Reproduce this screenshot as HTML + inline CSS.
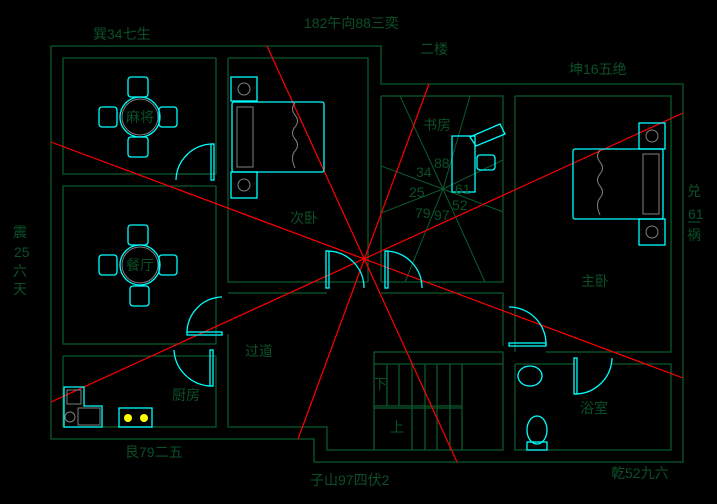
<!DOCTYPE html>
<html><head><meta charset="utf-8"><style>
html,body{margin:0;padding:0;background:#000;}
svg{display:block}
text{font-family:"Liberation Sans","Noto Sans CJK SC",sans-serif;fill:#0b5027;font-size:14px;}
</style></head><body>
<svg width="717" height="504" viewBox="0 0 717 504" xmlns="http://www.w3.org/2000/svg">
<rect width="717" height="504" fill="#000"/>
<g fill="none" stroke="#0b5a2c" stroke-width="1.3">
<polyline points="51,46 381,46 381,84 683,84 683,462 314,462 314,439 51,439 51,46"/>
<polyline points="63,58 216,58 216,174 63,174 63,58"/>
<polyline points="216,174 176,174"/>
<polyline points="63,186 216,186 216,344 63,344 63,186"/>
<polyline points="63,356 216,356 216,427 63,427 63,356"/>
<polyline points="228,58 368,58 368,282 228,282 228,58"/>
<polyline points="228,293 327,293"/>
<polyline points="228,334 228,427 327,427 327,450 374,450"/>
<polyline points="381,96 503,96 503,282 381,282 381,96"/>
<polyline points="381,293 503,293 503,346"/>
<polyline points="515,96 671,96 671,352 546,352"/>
<polyline points="515,96 515,352"/>
<polyline points="374,364 374,352 503,352 503,364"/>
<polyline points="515,364 575,364"/>
<polyline points="612,364 671,364 671,450 515,450 515,364"/>
<polyline points="374,364 503,364 503,450 374,450 374,364"/>
<line x1="374" y1="406" x2="462" y2="406"/><line x1="374" y1="408" x2="462" y2="408"/>
<line x1="387" y1="364" x2="387" y2="406"/><line x1="399" y1="364" x2="399" y2="406"/>
<line x1="412" y1="364" x2="412" y2="450"/><line x1="425" y1="364" x2="425" y2="450"/>
<line x1="437" y1="364" x2="437" y2="450"/><line x1="450" y1="364" x2="450" y2="450"/>
<line x1="462" y1="364" x2="462" y2="450"/>
<g stroke-width="1">
<line x1="443" y1="189" x2="400" y2="96"/><line x1="443" y1="189" x2="470" y2="96"/>
<line x1="443" y1="189" x2="381" y2="166"/><line x1="443" y1="189" x2="503" y2="160"/>
<line x1="443" y1="189" x2="381" y2="213"/><line x1="443" y1="189" x2="503" y2="212"/>
<line x1="443" y1="189" x2="405" y2="282"/><line x1="443" y1="189" x2="485" y2="282"/>
</g>
</g>
<g stroke="#ff0000" stroke-width="1.2">
<line x1="267" y1="46" x2="457" y2="462"/>
<line x1="298" y1="439" x2="429" y2="84"/>
<line x1="51" y1="142" x2="683" y2="378"/>
<line x1="51" y1="402" x2="683" y2="113"/>
</g>
<g fill="none" stroke="#00ffff" stroke-width="1.3">
<circle cx="140" cy="117" r="20"/>
<rect x="128" y="77" width="20" height="20" rx="3"/><rect x="128" y="137" width="20" height="20" rx="3"/>
<rect x="99" y="107" width="18" height="20" rx="3"/><rect x="159" y="107" width="18" height="20" rx="3"/>
<circle cx="140" cy="265" r="20"/>
<rect x="128" y="225" width="20" height="20" rx="3"/><rect x="130" y="286" width="19" height="20" rx="3"/>
<rect x="99" y="255" width="18" height="20" rx="3"/><rect x="159" y="255" width="18" height="20" rx="3"/>
<rect x="232" y="102" width="92" height="70" rx="2"/>
<rect x="231" y="77" width="26" height="24"/><rect x="231" y="172" width="26" height="26"/>
<rect x="573" y="149" width="90" height="70" rx="2"/>
<rect x="639" y="123" width="26" height="26"/><rect x="639" y="219" width="26" height="26"/>
<rect x="452" y="136" width="23" height="56"/>
<polygon points="470,137 500,124 505,134 476,146"/>
<rect x="477" y="155" width="18" height="15" rx="3"/>
<path d="M64,387 H84 V406 H102 V427 H64 Z"/>
<rect x="119" y="408" width="33" height="19"/>
<path d="M176,180 A37,37 0 0 1 213,144"/><rect x="211" y="144" width="3" height="36"/>
<path d="M187,333 A36,36 0 0 1 222,297"/><rect x="187" y="332" width="35" height="3"/>
<path d="M174,350 A38,38 0 0 0 212,386"/><rect x="210" y="350" width="3" height="36"/>
<path d="M327,251 A37,37 0 0 1 364,288"/><rect x="326" y="251" width="3" height="37"/>
<path d="M386,251 A37,37 0 0 1 422,288"/><rect x="385" y="251" width="3" height="37"/>
<path d="M509,307 A37,37 0 0 1 546,345"/><rect x="509" y="343" width="37" height="3"/>
<path d="M575,394 A37,37 0 0 0 612,358"/><rect x="574" y="358" width="3" height="36"/>
<ellipse cx="530" cy="376" rx="12" ry="10"/>
<ellipse cx="537" cy="430" rx="10" ry="14"/><rect x="527" y="442" width="20" height="8"/>
</g>
<g fill="none" stroke="#808080" stroke-width="1">
<circle cx="140" cy="117" r="18"/><circle cx="140" cy="265" r="18"/>
<circle cx="244" cy="89" r="6"/><circle cx="244" cy="185" r="6"/>
<circle cx="652" cy="136" r="6"/><circle cx="652" cy="232" r="6"/>
<rect x="237" y="107" width="16" height="60"/><rect x="643" y="154" width="16" height="60"/>
<path d="M295,103 q-5,6 0,12 q5,6 0,12 q-5,6 0,12 q5,6 0,12 q-5,6 0,17"/>
<path d="M600,150 q-5,6 0,12 q5,6 0,12 q-5,6 0,12 q5,6 0,12 q-5,6 0,17"/>
<rect x="67" y="390" width="14" height="14"/><circle cx="70" cy="417" r="5"/><rect x="78" y="408" width="22" height="17"/>
</g>
<g fill="#ffff00"><circle cx="128" cy="418" r="4"/><circle cx="144" cy="418" r="4"/></g>
<text x="93" y="39">巽34七生</text>
<text x="304" y="28">182午向88三奕</text>
<text x="420" y="54">二楼</text>
<text x="569" y="74">坤16五绝</text>
<text x="687" y="196">兑</text><text x="688" y="219">61</text>
<line x1="688" y1="222" x2="700" y2="222" stroke="#0b5a2c"/>
<text x="687" y="240">祸</text>
<text x="13" y="237">震</text><text x="14" y="257">25</text><text x="13" y="276">六</text><text x="13" y="294">天</text>
<text x="125" y="457">艮79二五</text>
<text x="310" y="485">子山97四伏2</text>
<text x="611" y="478">乾52九六</text>
<text x="126" y="122">麻将</text><text x="126" y="270">餐厅</text>
<text x="290" y="223">次卧</text><text x="423" y="130">书房</text>
<text x="581" y="286">主卧</text><text x="245" y="356">过道</text>
<text x="172" y="400">厨房</text><text x="580" y="413">浴室</text>
<text x="373" y="389">下</text><text x="390" y="432">上</text>
<g style="font-size:13px"><text x="416" y="177">34</text><text x="434" y="168">88</text>
<text x="409" y="197">25</text><text x="455" y="194">61</text>
<text x="415" y="218">79</text><text x="434" y="220">97</text><text x="452" y="210">52</text></g>
</svg>
</body></html>
